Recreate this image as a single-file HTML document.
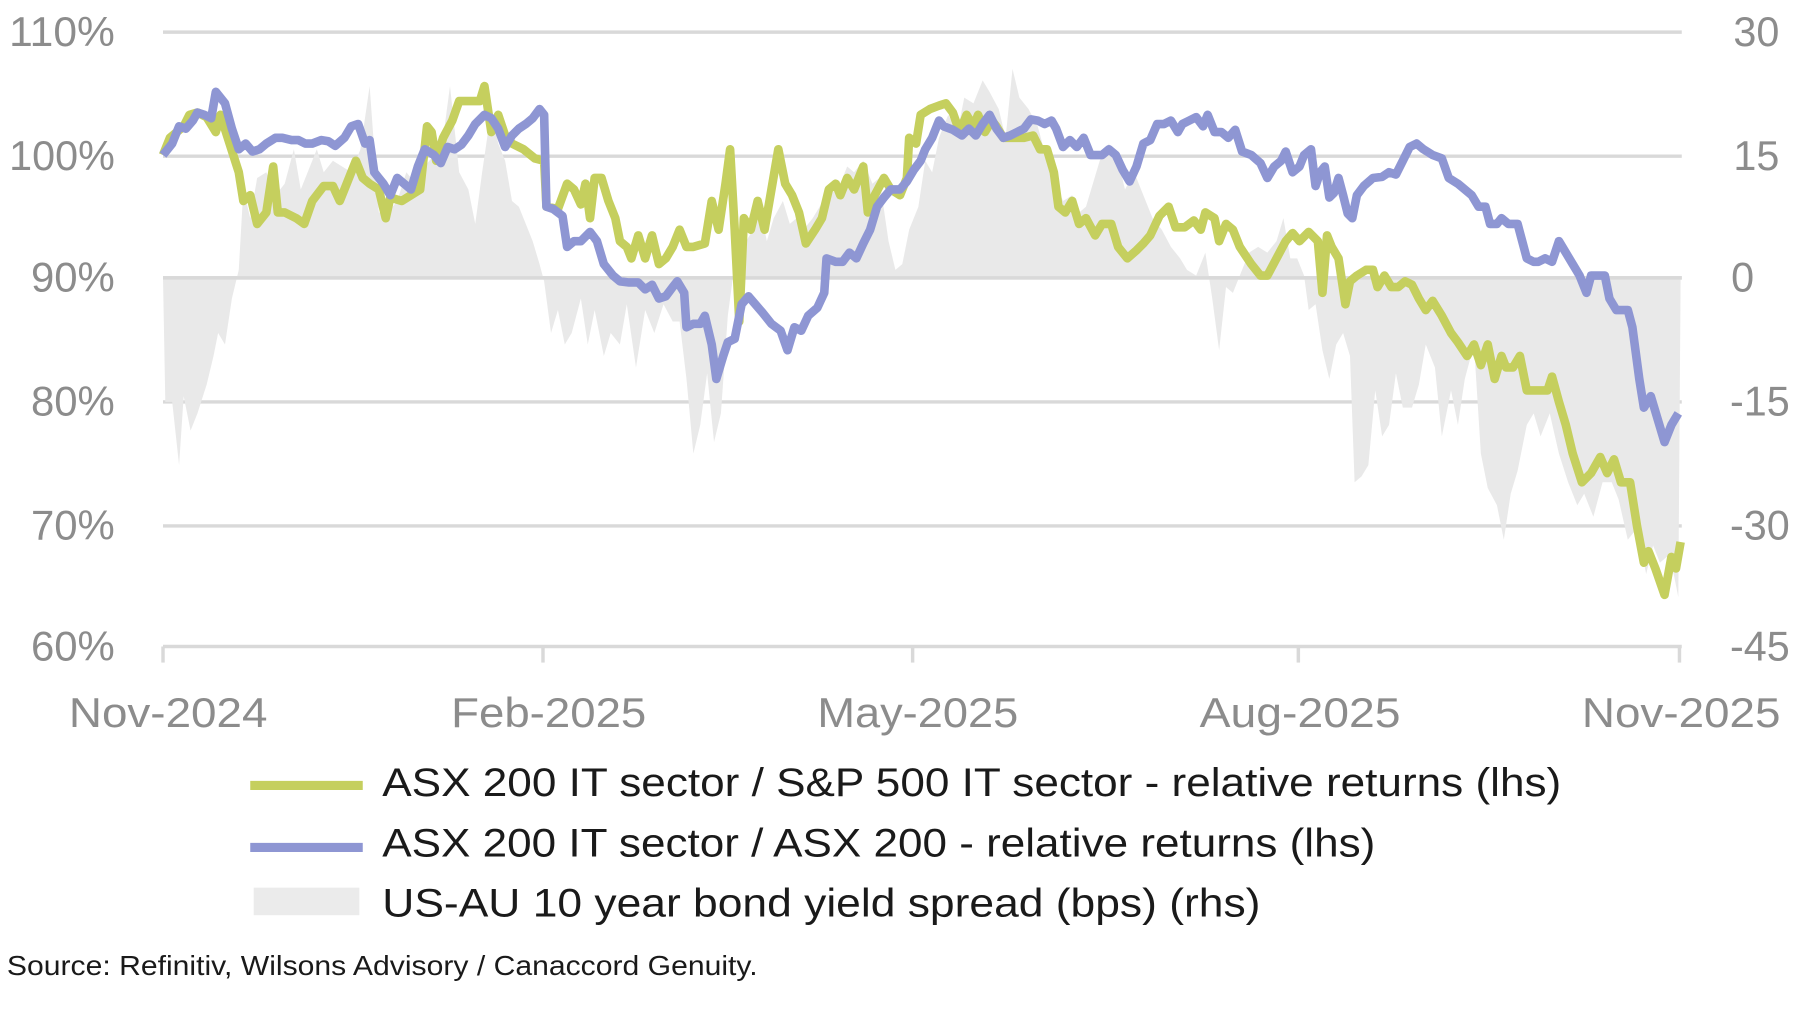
<!DOCTYPE html>
<html><head><meta charset="utf-8"><style>
html,body{margin:0;padding:0;background:#fff;width:1800px;height:1022px;overflow:hidden}
svg{display:block}
text{font-family:"Liberation Sans",sans-serif}
</style></head><body>
<svg width="1800" height="1022" viewBox="0 0 1568 890" preserveAspectRatio="none">
<g stroke="#d9d9d9" stroke-width="3">
<line x1="142" y1="28" x2="1465" y2="28"/><line x1="142" y1="136" x2="1465" y2="136"/><line x1="142" y1="242" x2="1465" y2="242"/><line x1="142" y1="350" x2="1465" y2="350"/><line x1="142" y1="458" x2="1465" y2="458"/><line x1="142" y1="563" x2="1465" y2="563"/>
<line x1="142" y1="563" x2="142" y2="577"/><line x1="473" y1="563" x2="473" y2="577"/><line x1="795" y1="563" x2="795" y2="577"/><line x1="1131" y1="563" x2="1131" y2="577"/><line x1="1463" y1="563" x2="1463" y2="577"/>
</g>
<polygon fill="#e9e9e9" points="142,242 144,350 150,350 156,405 160,345 166,375 172,360 180,335 186,310 190,290 196,300 202,260 208,235 212,165 218,190 224,155 232,150 240,170 248,160 256,130 262,165 268,150 276,130 282,150 290,140 298,145 306,150 314,130 322,75 330,185 338,185 346,175 354,150 362,160 370,145 378,135 386,120 392,75 400,150 408,165 414,195 420,150 428,95 434,125 440,140 446,175 452,180 458,195 464,210 470,230 474,245 480,290 486,270 492,300 498,290 506,260 512,300 518,270 526,310 532,290 540,300 546,265 554,320 562,270 570,290 578,265 586,280 592,280 598,330 604,395 610,370 616,325 622,385 628,360 634,275 640,230 650,210 656,200 662,180 668,210 674,190 682,175 688,195 694,190 700,200 708,190 714,180 720,170 730,165 738,145 744,150 752,140 760,160 766,155 774,210 780,235 786,230 792,200 800,180 806,140 812,150 818,120 826,100 834,115 840,85 848,90 856,70 862,80 870,95 876,120 882,60 888,85 896,95 904,110 912,140 918,155 926,175 934,170 940,185 946,180 952,160 958,140 966,125 974,140 980,165 988,150 996,170 1004,190 1012,200 1020,215 1028,225 1034,235 1042,240 1050,220 1056,260 1062,305 1068,250 1074,255 1080,240 1088,220 1096,215 1104,220 1112,210 1118,190 1124,225 1130,225 1136,240 1140,270 1146,265 1152,305 1158,330 1164,300 1170,290 1176,310 1180,420 1186,415 1192,405 1198,340 1204,380 1210,370 1216,325 1222,355 1230,355 1236,335 1242,300 1250,320 1256,380 1264,340 1270,370 1276,330 1284,300 1290,395 1296,425 1304,440 1310,470 1316,430 1322,410 1330,370 1336,360 1342,380 1350,360 1358,395 1366,420 1374,440 1380,430 1388,450 1396,420 1404,420 1410,435 1418,470 1426,460 1434,500 1440,475 1446,490 1452,485 1458,500 1462,520 1464,242"/>
<line x1="142" y1="242" x2="1465" y2="242" stroke="#d9d9d9" stroke-width="3"/>
<polyline fill="none" stroke="#c5cf5e" stroke-width="7.5" stroke-linejoin="round" points="142,135 148,120 160,110 165,100 172,98 180,102 188,115 192,100 200,125 208,150 212,175 218,170 224,195 232,185 238,145 242,185 248,185 258,190 265,195 272,175 282,162 290,162 296,175 302,160 310,140 316,155 322,160 330,165 336,190 340,172 350,175 358,170 366,165 372,110 376,115 380,140 386,120 394,105 400,88 410,88 418,88 422,75 428,115 434,100 440,118 446,125 456,130 466,138 474,140 476,180 486,182 494,160 500,165 506,178 510,160 514,190 518,155 524,155 530,175 536,190 540,210 546,215 550,225 556,205 562,225 568,205 574,230 580,225 586,215 592,200 598,215 604,215 614,212 620,175 626,200 632,160 636,130 640,200 644,280 648,190 654,200 660,175 666,200 672,165 678,130 684,160 690,170 696,185 702,212 710,200 716,190 722,165 728,160 732,170 738,155 744,165 752,145 756,185 762,170 770,155 776,165 784,170 790,155 792,120 798,125 802,100 810,95 818,92 824,90 830,98 836,115 842,100 848,110 852,100 858,115 864,105 868,110 874,120 884,120 892,120 900,118 906,130 912,130 918,150 922,180 928,185 934,175 940,195 946,190 954,205 960,195 968,195 974,215 982,225 990,218 996,212 1002,205 1010,188 1018,180 1024,198 1032,198 1040,192 1046,200 1050,185 1058,190 1062,210 1068,195 1074,200 1080,215 1090,230 1098,240 1104,240 1112,225 1120,210 1126,203 1132,210 1140,202 1148,210 1152,255 1156,205 1160,215 1166,225 1172,265 1176,245 1182,240 1190,235 1196,235 1200,250 1206,240 1212,250 1218,250 1224,245 1230,248 1236,260 1242,270 1248,262 1256,275 1264,290 1270,298 1278,310 1284,300 1290,318 1296,300 1302,330 1308,310 1312,320 1318,320 1324,310 1330,340 1340,340 1348,340 1352,328 1358,350 1364,370 1370,395 1378,420 1386,412 1394,398 1400,412 1406,400 1412,420 1420,420 1426,458 1432,490 1436,480 1442,495 1450,518 1456,485 1460,495 1464,472"/>
<polyline fill="none" stroke="#8e96d3" stroke-width="7.5" stroke-linejoin="round" points="142,135 150,125 156,110 162,112 168,105 172,98 178,100 184,103 188,80 196,90 202,112 208,130 214,125 220,132 226,130 232,125 240,120 246,120 254,122 260,122 266,125 272,125 280,122 286,123 292,127 300,120 306,110 312,108 318,125 322,122 326,150 334,160 340,170 346,155 352,160 358,165 364,145 370,130 378,135 384,142 390,128 396,130 402,126 408,118 414,108 422,100 428,103 434,112 440,128 446,118 452,112 458,108 464,103 470,95 474,100 476,180 482,182 490,188 494,215 500,210 506,210 514,202 520,210 526,230 534,240 540,245 548,246 556,246 562,252 568,248 574,260 580,258 586,250 590,245 596,255 598,285 604,282 610,282 614,275 620,300 624,330 630,310 634,298 640,295 646,265 652,258 658,265 664,272 672,282 680,288 686,305 692,285 698,288 704,275 712,268 718,255 720,225 728,228 734,228 740,220 746,225 752,212 758,200 764,180 770,172 776,165 784,165 790,158 796,148 802,140 806,130 812,120 818,105 822,110 830,113 838,118 844,112 850,118 856,108 862,100 868,112 874,120 880,118 886,115 892,112 898,104 904,105 910,108 916,105 920,112 926,128 932,122 938,128 944,120 950,135 960,135 966,130 972,135 978,148 984,158 990,145 996,125 1002,122 1008,108 1014,108 1020,105 1026,115 1030,108 1036,105 1042,102 1048,110 1052,100 1058,115 1064,115 1070,120 1076,113 1082,132 1090,135 1098,142 1104,155 1110,145 1116,140 1120,132 1126,150 1132,145 1136,135 1142,130 1146,162 1150,150 1154,145 1158,172 1162,168 1166,155 1170,170 1174,186 1178,190 1182,170 1188,162 1196,155 1204,154 1210,150 1216,152 1222,140 1228,128 1234,125 1240,130 1248,135 1256,138 1262,155 1270,160 1276,165 1282,170 1288,180 1294,180 1298,195 1304,195 1308,190 1314,195 1322,195 1326,210 1330,225 1336,228 1340,228 1346,225 1352,228 1358,210 1364,220 1370,230 1376,240 1382,255 1386,240 1392,240 1398,240 1402,260 1408,270 1414,270 1418,270 1422,285 1428,330 1432,355 1438,345 1444,365 1450,385 1456,370 1462,360"/>
<g fill="#8c8c8c" font-size="36">
<text x="8" y="40" textLength="92" lengthAdjust="spacingAndGlyphs">110%</text>
<text x="8" y="148" textLength="92" lengthAdjust="spacingAndGlyphs">100%</text>
<text x="27" y="254" textLength="73" lengthAdjust="spacingAndGlyphs">90%</text>
<text x="27" y="362" textLength="73" lengthAdjust="spacingAndGlyphs">80%</text>
<text x="27" y="470" textLength="73" lengthAdjust="spacingAndGlyphs">70%</text>
<text x="27" y="575" textLength="73" lengthAdjust="spacingAndGlyphs">60%</text>
<text x="1530" y="40" text-anchor="middle">30</text>
<text x="1530" y="148" text-anchor="middle">15</text>
<text x="1518" y="254" text-anchor="middle">0</text>
<text x="1533" y="362" text-anchor="middle">-15</text>
<text x="1533" y="470" text-anchor="middle">-30</text>
<text x="1533" y="575" text-anchor="middle">-45</text>
<text x="60" y="633" textLength="173" lengthAdjust="spacingAndGlyphs">Nov-2024</text>
<text x="393" y="633" textLength="170" lengthAdjust="spacingAndGlyphs">Feb-2025</text>
<text x="712" y="633" textLength="175" lengthAdjust="spacingAndGlyphs">May-2025</text>
<text x="1045" y="633" textLength="175" lengthAdjust="spacingAndGlyphs">Aug-2025</text>
<text x="1378" y="633" textLength="173" lengthAdjust="spacingAndGlyphs">Nov-2025</text>
</g>
<line x1="218" y1="684" x2="316" y2="684" stroke="#c5cf5e" stroke-width="8"/>
<line x1="218" y1="738" x2="316" y2="738" stroke="#8e96d3" stroke-width="8"/>
<rect x="221" y="773" width="92" height="24" fill="#ebebeb"/>
<g fill="#1a1a1a" font-size="35">
<text x="333" y="693" textLength="1027" lengthAdjust="spacingAndGlyphs">ASX 200 IT sector / S&amp;P 500 IT sector - relative returns (lhs)</text>
<text x="333" y="746" textLength="865" lengthAdjust="spacingAndGlyphs">ASX 200 IT sector / ASX 200 - relative returns (lhs)</text>
<text x="333" y="798" textLength="765" lengthAdjust="spacingAndGlyphs">US-AU 10 year bond yield spread (bps) (rhs)</text>
</g>
<text x="6" y="849" font-size="24" fill="#1a1a1a" textLength="654" lengthAdjust="spacingAndGlyphs">Source: Refinitiv, Wilsons Advisory / Canaccord Genuity.</text>
</svg>
</body></html>
